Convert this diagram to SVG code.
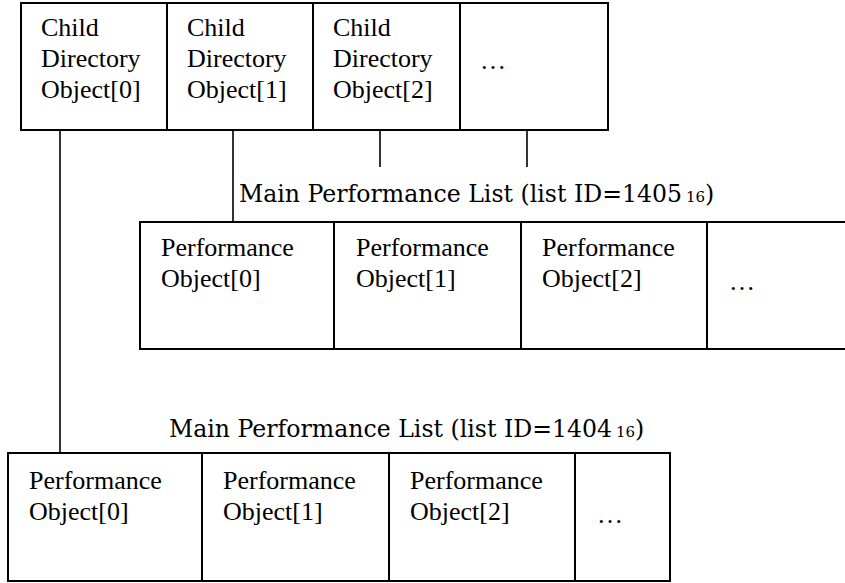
<svg xmlns="http://www.w3.org/2000/svg" width="845" height="583" viewBox="0 0 845 583">
<style>
.box{fill:#fff;stroke:#000;stroke-width:2}
.div{stroke:#000;stroke-width:2}
.con{stroke:#000;stroke-width:1.6;fill:none}
.t{font-family:"Liberation Serif","Times New Roman",serif;font-size:26px;fill:#000}
.lbl{font-family:"DejaVu Serif",serif;font-size:23.6px;fill:#000}
.sub{font-family:"DejaVu Serif",serif;font-size:15px;fill:#000}
</style>
<rect width="845" height="583" fill="#fff"/>
<g id="connectors">
<line class="con" x1="60" y1="130" x2="60" y2="453"/>
<line class="con" x1="233" y1="130" x2="233" y2="222"/>
<line class="con" x1="380" y1="130" x2="380" y2="167"/>
<line class="con" x1="527" y1="130" x2="527" y2="167"/>
</g>
<g id="top-list">
<rect class="box" x="21" y="3" width="587" height="127"/>
<line class="div" x1="167" y1="3" x2="167" y2="130"/>
<line class="div" x1="313" y1="3" x2="313" y2="130"/>
<line class="div" x1="460" y1="3" x2="460" y2="130"/>
<g id="child0"><text class="t" x="41" y="36">Child</text><text class="t" x="41" y="67">Directory</text><text class="t" x="41" y="98">Object[0]</text></g>
<g id="child1"><text class="t" x="187" y="36">Child</text><text class="t" x="187" y="67">Directory</text><text class="t" x="187" y="98">Object[1]</text></g>
<g id="child2"><text class="t" x="333" y="36">Child</text><text class="t" x="333" y="67">Directory</text><text class="t" x="333" y="98">Object[2]</text></g>
<g id="child-more"><text class="t" x="480" y="69">…</text></g>
</g>
<g id="label1405">
<text class="lbl" x="239" y="202" textLength="443" lengthAdjust="spacingAndGlyphs">Main Performance List (list ID=1405</text>
<text class="sub" x="686" y="202">16</text>
<text class="lbl" x="705" y="202">)</text>
</g>
<g id="list1405">
<rect class="box" x="140" y="222" width="720" height="127"/>
<line class="div" x1="334" y1="222" x2="334" y2="349"/>
<line class="div" x1="521" y1="222" x2="521" y2="349"/>
<line class="div" x1="707" y1="222" x2="707" y2="349"/>
<g id="perf1405-0"><text class="t" x="161" y="256">Performance</text><text class="t" x="161" y="287">Object[0]</text></g>
<g id="perf1405-1"><text class="t" x="356" y="256">Performance</text><text class="t" x="356" y="287">Object[1]</text></g>
<g id="perf1405-2"><text class="t" x="542" y="256">Performance</text><text class="t" x="542" y="287">Object[2]</text></g>
<g id="perf1405-more"><text class="t" x="729" y="290">…</text></g>
</g>
<g id="label1404">
<text class="lbl" x="169" y="437" textLength="443" lengthAdjust="spacingAndGlyphs">Main Performance List (list ID=1404</text>
<text class="sub" x="616" y="437">16</text>
<text class="lbl" x="635" y="437">)</text>
</g>
<g id="list1404">
<rect class="box" x="8" y="453" width="662" height="128"/>
<line class="div" x1="202" y1="453" x2="202" y2="581"/>
<line class="div" x1="389" y1="453" x2="389" y2="581"/>
<line class="div" x1="575" y1="453" x2="575" y2="581"/>
<g id="perf1404-0"><text class="t" x="29" y="489">Performance</text><text class="t" x="29" y="520">Object[0]</text></g>
<g id="perf1404-1"><text class="t" x="223" y="489">Performance</text><text class="t" x="223" y="520">Object[1]</text></g>
<g id="perf1404-2"><text class="t" x="410" y="489">Performance</text><text class="t" x="410" y="520">Object[2]</text></g>
<g id="perf1404-more"><text class="t" x="597" y="523">…</text></g>
</g>
</svg>
